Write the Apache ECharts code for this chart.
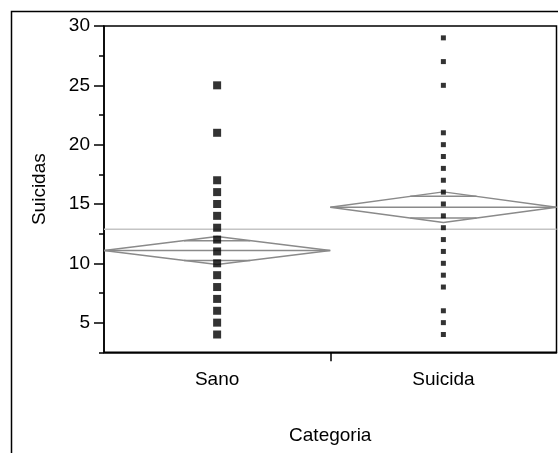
<!DOCTYPE html>
<html>
<head>
<meta charset="utf-8">
<script src="https://cdn.jsdelivr.net/npm/echarts@6/dist/echarts.min.js"></script>
<style>
html,body{margin:0;padding:0;background:#fff;}
#c{width:558px;height:453px;}
</style>
</head>
<body>
<div id="c"></div>
<script>
// ---- data ----
var categories = ['Sano', 'Suicida'];
var sanoValues = [4, 5, 6, 7, 8, 9, 10, 11, 12, 13, 14, 15, 16, 17, 21, 25];
var suicidaValues = [4, 5, 6, 8, 9, 10, 11, 12, 13, 14, 15, 16, 17, 18, 19, 20, 21, 25, 27, 29];
var groupMeans = [11.07, 14.73];
var groupCIHalf = [1.18, 1.29];
var grandMean = 12.87;
var yTickLabels = [5, 10, 15, 20, 25, 30];

var FONT = 'Liberation Sans, Arial, sans-serif';
var chart = echarts.init(document.getElementById('c'));

function diamondSeries(i) {
  var m = groupMeans[i], h = groupCIHalf[i];
  var x0 = i, xc = i + 0.5, x1 = i + 1;
  var k = 1 / Math.SQRT2;
  var half = 0.5 * (1 - k);
  var s = [];
  var style = { color: '#8a8a8a', width: 1.5 };
  s.push({ type: 'line', xAxisIndex: 0, yAxisIndex: 0, symbol: 'none', silent: true, z: 3,
    lineStyle: style,
    data: [[x0, m], [xc, m + h], [x1, m], [xc, m - h], [x0, m]] });
  s.push({ type: 'line', xAxisIndex: 0, yAxisIndex: 0, symbol: 'none', silent: true, z: 3,
    lineStyle: style, data: [[x0, m], [x1, m]] });
  s.push({ type: 'line', xAxisIndex: 0, yAxisIndex: 0, symbol: 'none', silent: true, z: 3,
    lineStyle: style, data: [[xc - half, m + h * k], [xc + half, m + h * k]] });
  s.push({ type: 'line', xAxisIndex: 0, yAxisIndex: 0, symbol: 'none', silent: true, z: 3,
    lineStyle: style, data: [[xc - half, m - h * k], [xc + half, m - h * k]] });
  return s;
}

var series = [];
series.push({ type: 'line', xAxisIndex: 0, yAxisIndex: 0, symbol: 'none', silent: true, z: 2,
  lineStyle: { color: '#c4c4c4', width: 1.5 }, data: [[0, grandMean], [2, grandMean]] });
series = series.concat(diamondSeries(0), diamondSeries(1));
series.push({ type: 'scatter', xAxisIndex: 0, yAxisIndex: 0, symbol: 'rect', symbolSize: 8, z: 5,
  itemStyle: { color: '#000' },
  data: sanoValues.map(function (v) { return [0.5, v]; }) });
series.push({ type: 'scatter', xAxisIndex: 0, yAxisIndex: 0, symbol: 'rect', symbolSize: 5, z: 5,
  itemStyle: { color: '#000' },
  data: suicidaValues.map(function (v) { return [1.5, v]; }) });

var option = {
  animation: false,
  backgroundColor: '#fff',
  textStyle: { fontFamily: FONT },
  grid: { left: 104, top: 26, right: 1.5, bottom: 100.7, show: true, borderColor: '#000', borderWidth: 1.5, containLabel: false },
  graphic: [{ type: 'rect', shape: { x: 11.5, y: 11.5, width: 700, height: 700 },
    style: { fill: 'none', stroke: '#000', lineWidth: 1.5 }, silent: true, z: -1 }],
  xAxis: [{
    type: 'value', min: 0, max: 2, position: 'bottom',
    splitLine: { show: false },
    axisLine: { show: true, lineStyle: { color: '#000', width: 1.5 } },
    axisTick: { show: true, customValues: [1], length: 9, lineStyle: { color: '#000', width: 1.5 } },
    axisLabel: { customValues: [0.5, 1.5], margin: 18, color: '#000', fontSize: 19, fontFamily: FONT,
      formatter: function (v) { return categories[Math.round(v - 0.5)]; } },
    name: 'Categoria', nameLocation: 'middle', nameGap: 74,
    nameTextStyle: { color: '#000', fontSize: 19, fontFamily: FONT }
  }],
  yAxis: [{
    type: 'value', min: 2.5, max: 30, interval: 2.5, position: 'left',
    splitLine: { show: false },
    axisLine: { show: true, lineStyle: { color: '#000', width: 1.5 } },
    axisTick: { show: true, length: 5, lineStyle: { color: '#000', width: 1.5 } },
    axisLabel: { show: false },
    name: 'Suicidas', nameLocation: 'middle', nameGap: 55,
    nameTextStyle: { color: '#000', fontSize: 19, fontFamily: FONT }
  }, {
    type: 'value', min: 2.5, max: 30, position: 'left',
    splitLine: { show: false },
    axisLine: { show: false },
    axisTick: { show: true, customValues: yTickLabels, length: 10, lineStyle: { color: '#000', width: 1.5 } },
    axisLabel: { customValues: yTickLabels, margin: 14, color: '#000', fontSize: 19, fontFamily: FONT }
  }],
  series: series
};
chart.setOption(option);
</script>
</body>
</html>
